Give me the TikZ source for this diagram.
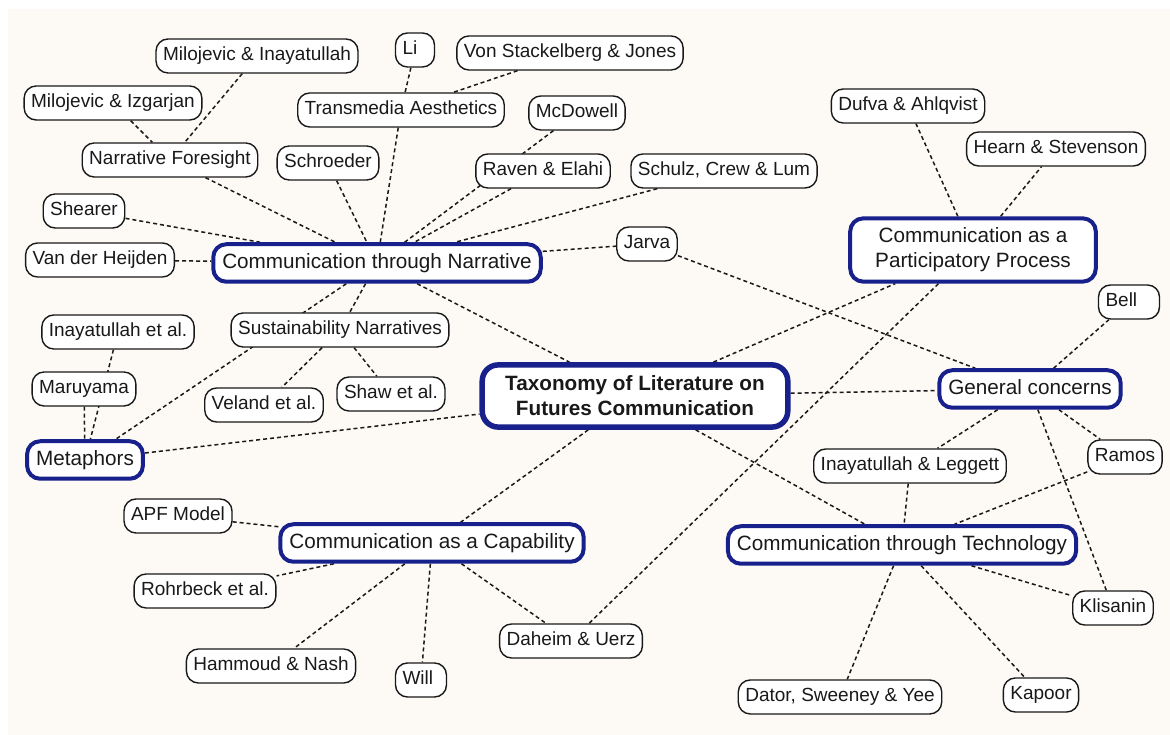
\documentclass[tikz,border=0pt]{standalone}
\usepackage{fontspec}
\setmainfont{Liberation Sans}
\usetikzlibrary{backgrounds}
\definecolor{navy}{RGB}{24,32,140}
\definecolor{paper}{RGB}{253,250,245}
\definecolor{ink}{RGB}{25,25,25}

\begin{document}
\begin{tikzpicture}[line cap=round,line join=round,x=1pt,y=1pt,
  leaf/.style={draw=ink,fill=white,line width=1.4pt,rounded corners=12pt,inner xsep=7pt,inner ysep=8pt,text height=14pt,text depth=4pt,text=ink,font=\fontsize{19}{22}\selectfont},
  short/.style={leaf,align=left,text width=#1},
  multi/.style={draw=navy,fill=white,line width=4pt,rounded corners=13pt,inner xsep=25pt,inner ysep=9.5pt,text=ink,align=center,font=\fontsize{20.7}{25}\selectfont},
  topic/.style={multi,inner xsep=9pt,inner ysep=9pt,text height=15pt,text depth=4.5pt},
  root/.style={multi,line width=5.5pt,rounded corners=16pt,inner xsep=23pt,inner ysep=11pt,font=\fontsize{20.7}{25}\selectfont\bfseries},
  link/.style={draw=ink,line width=1.5pt,line cap=butt,dash pattern=on 4pt off 3pt}]
\useasboundingbox (0,0) rectangle (1170,735);
\begin{scope}[on background layer]
\fill[paper] (8,0) rectangle (1170,726);
\end{scope}
\node[root] (tax) at (635,339) {Taxonomy of Literature on\\Futures Communication};
\node[topic] (narr) at (377,472) {Communication through Narrative};
\node[multi] (part) at (973,485) {Communication as a\\Participatory Process};
\node[topic] (gen) at (1030,346) {General concerns};
\node[topic] (meta) at (85,275) {Metaphors};
\node[topic] (cap) at (432,192) {Communication as a Capability};
\node[topic] (tech) at (902,190) {Communication through Technology};
\node[leaf] (mi) at (257,679) {Milojevic \& Inayatullah};
\node[short=25pt] (li) at (415,685) {Li};
\node[leaf] (vsj) at (570,682) {Von Stackelberg \& Jones};
\node[leaf] (miz) at (113,632) {Milojevic \& Izgarjan};
\node[leaf] (ta) at (401,625) {Transmedia Aesthetics};
\node[leaf] (mcd) at (577,622) {McDowell};
\node[leaf] (nf) at (170,575) {Narrative Foresight};
\node[leaf] (sch) at (328,572) {Schroeder};
\node[leaf] (re) at (543,564) {Raven \& Elahi};
\node[leaf] (scl) at (724,564) {Schulz, Crew \& Lum};
\node[leaf] (she) at (84,524) {Shearer};
\node[leaf] (vdh) at (100,475) {Van der Heijden};
\node[leaf] (jar) at (647,491) {Jarva};
\node[leaf] (dfa) at (908,629) {Dufva \& Ahlqvist};
\node[leaf] (hs) at (1056,586) {Hearn \& Stevenson};
\node[short=47pt] (bell) at (1129,433) {Bell};
\node[leaf] (iea) at (118,403) {Inayatullah et al.};
\node[leaf] (sn) at (340,405) {Sustainability Narratives};
\node[leaf] (mar) at (84,346) {Maruyama};
\node[leaf] (vel) at (264,330) {Veland et al.};
\node[leaf] (shaw) at (391,341) {Shaw et al.};
\node[leaf] (il) at (910,269) {Inayatullah \& Leggett};
\node[leaf] (ram) at (1125,278) {Ramos};
\node[leaf] (apf) at (178,219) {APF Model};
\node[leaf] (rohr) at (205,144) {Rohrbeck et al.};
\node[leaf] (hn) at (271,69) {Hammoud \& Nash};
\node[short=37pt] (will) at (421,55) {Will};
\node[leaf] (du) at (571,94) {Daheim \& Uerz};
\node[leaf] (kli) at (1113,127) {Klisanin};
\node[leaf] (dsy) at (840,38) {Dator, Sweeney \& Yee};
\node[leaf] (kap) at (1041,40) {Kapoor};
\begin{scope}[on background layer]
\foreach \a/\b in {mi/nf,miz/nf,nf/narr,li/ta,vsj/ta,ta/narr,sch/narr,mcd/narr,re/narr,
    scl/narr,she/narr,vdh/narr,narr/jar,jar/gen,narr/sn,narr/meta,narr/tax,sn/vel,sn/shaw,
    iea/meta,mar/meta,meta/tax,tax/part,tax/gen,tax/cap,tax/tech,part/dfa,part/hs,part/du,
    gen/bell,gen/il,gen/ram,gen/kli,il/tech,ram/tech,tech/kli,tech/dsy,tech/kap,
    cap/apf,cap/rohr,cap/hn,cap/will,cap/du}
  \draw[link] (\a) -- (\b);
\end{scope}
\end{tikzpicture}
\end{document}
